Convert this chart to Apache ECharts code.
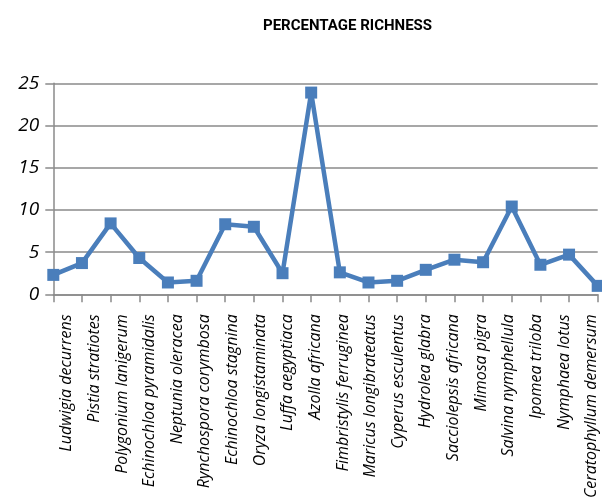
<!DOCTYPE html>
<html>
<head>
<meta charset="utf-8">
<script src="https://cdn.jsdelivr.net/npm/echarts@6/dist/echarts.min.js"></script>
<style>
html, body { margin: 0; padding: 0; background: #fff; }
#chart { width: 602px; height: 500px; }
</style>
</head>
<body>
<div id="chart"></div>
<script>
// species along the x axis
var species = [
    'Ludwigia decurrens', 'Pistia stratiotes', 'Polygonium lanigerum', 'Echinochloa pyramidalis',
    'Neptunia oleracea', 'Rynchospora corymbosa', 'Echinochloa stagnina', 'Oryza longistaminata',
    'Luffa aegyptiaca', 'Azolla africana', 'Fimbristylis ferruginea', 'Maricus longibrateatus',
    'Cyperus esculentus', 'Hydrolea glabra', 'Sacciolepsis africana', 'Mimosa pigra',
    'Salvina nymphellula', 'Ipomea triloba', 'Nymphaea lotus', 'Ceratophyllum demersum'
];
// percentage richness
var richness = [2.3, 3.7, 8.4, 4.3, 1.4, 1.6, 8.3, 8.0, 2.5, 23.9, 2.6, 1.4, 1.6, 2.9, 4.1, 3.8, 10.4, 3.5, 4.7, 1.0];
var yMin = 0, yMax = 25, yStep = 5;

var gridColor = '#8a8a8a';
var lineColor = '#4a7ebb';
var labelFont = '"Open Sans", "Noto Sans", sans-serif';

var chart = echarts.init(document.getElementById('chart'));

var option = {
    animation: false,
    title: {
        text: 'PERCENTAGE RICHNESS',
        left: 263,
        top: 19,
        padding: 0,
        textStyle: { fontFamily: 'Roboto, sans-serif', fontWeight: 'bold', fontSize: 15, color: '#000' }
    },
    grid: [
        // plot area
        { left: 53.3, top: 83.3, width: 544.4, height: 211, outerBoundsMode: 'none' },
        // labels sit a little apart from the ticks in the original, so they get their own band axis
        { left: 52.9, top: 83.3, width: 552.6, height: 211, outerBoundsMode: 'none' }
    ],
    xAxis: [
        {
            gridIndex: 0,
            type: 'category',
            data: species,
            boundaryGap: false,
            axisLine: { lineStyle: { color: gridColor, width: 1.5 } },
            axisTick: { show: true, interval: 0, length: 8, lineStyle: { color: gridColor, width: 1.5 } },
            axisLabel: { show: false },
            splitLine: { show: false }
        },
        {
            gridIndex: 1,
            type: 'category',
            data: species,
            boundaryGap: true,
            axisLine: { show: false },
            axisTick: { show: false },
            splitLine: { show: false },
            axisLabel: {
                interval: 0,
                rotate: 90,
                margin: 20,
                color: '#000',
                fontFamily: labelFont,
                fontStyle: 'italic',
                fontSize: 16
            }
        }
    ],
    yAxis: [
        {
            gridIndex: 0,
            type: 'value',
            min: yMin,
            max: yMax,
            interval: yStep,
            axisLine: { show: true, lineStyle: { color: gridColor, width: 1.5 } },
            axisTick: { show: true, length: 8, lineStyle: { color: gridColor, width: 1.5 } },
            splitLine: { show: true, lineStyle: { color: gridColor, width: 1.5 } },
            axisLabel: {
                margin: 14,
                color: '#000',
                fontFamily: labelFont,
                fontStyle: 'italic',
                fontSize: 19
            }
        },
        { gridIndex: 1, type: 'value', min: yMin, max: yMax, show: false }
    ],
    series: [
        {
            name: 'Percentage richness',
            type: 'line',
            xAxisIndex: 0,
            yAxisIndex: 0,
            data: richness,
            clip: false,
            symbol: 'rect',
            symbolSize: 12,
            lineStyle: { color: lineColor, width: 4.5 },
            itemStyle: { color: lineColor }
        }
    ]
};

chart.setOption(option);
</script>
</body>
</html>
